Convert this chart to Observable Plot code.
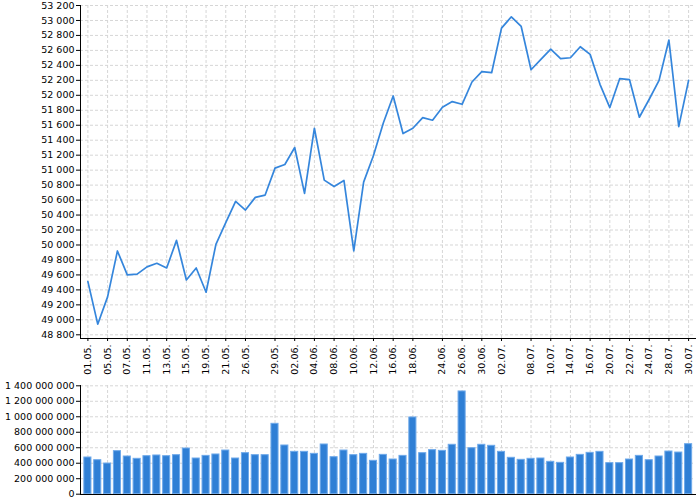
<!DOCTYPE html>
<html>
<head>
<meta charset="utf-8">
<script src="https://cdn.jsdelivr.net/npm/d3@7"></script>
<script src="https://cdn.jsdelivr.net/npm/@observablehq/plot@0.6"></script>
<style>
  html, body { margin: 0; padding: 0; background: #fff; }
  #chart > svg, #chart > figure { display: block; margin: 0; }
</style>
</head>
<body>
<div id="chart"></div>
<script>
const dates = [
  "01.05.","04.05.","05.05.","06.05.","07.05.","08.05.","11.05.","12.05.","13.05.","14.05.",
  "15.05.","18.05.","19.05.","20.05.","21.05.","22.05.","26.05.","27.05.","28.05.","29.05.",
  "01.06.","02.06.","03.06.","04.06.","05.06.","08.06.","09.06.","10.06.","11.06.","12.06.",
  "15.06.","16.06.","17.06.","18.06.","19.06.","22.06.","24.06.","25.06.","26.06.","29.06.",
  "30.06.","01.07.","02.07.","06.07.","07.07.","08.07.","09.07.","10.07.","13.07.","14.07.",
  "15.07.","16.07.","17.07.","20.07.","21.07.","22.07.","23.07.","24.07.","27.07.","28.07.",
  "29.07.","30.07."
];

const closes = [
  49510, 48942, 49307, 49920, 49600, 49610, 49707, 49756, 49693, 50062,
  49533, 49693, 49369, 50009, 50298, 50582, 50467, 50636, 50667, 51027,
  51076, 51302, 50689, 51560, 50867, 50782, 50862, 49920, 50840, 51196,
  51631, 51991, 51489, 51560, 51702, 51667, 51840, 51916, 51880, 52178,
  52316, 52302, 52898, 53049, 52920, 52342, 52480, 52618, 52489, 52502,
  52649, 52547, 52147, 51836, 52222, 52209, 51707, 51947, 52200, 52738,
  51582, 52200
];

const volumes = [
  474e6, 439e6, 396e6, 556e6, 487e6, 457e6, 491e6, 500e6, 491e6, 504e6,
  590e6, 461e6, 495e6, 513e6, 564e6, 461e6, 530e6, 504e6, 504e6, 909e6,
  629e6, 547e6, 547e6, 521e6, 642e6, 478e6, 564e6, 504e6, 521e6, 431e6,
  508e6, 448e6, 495e6, 991e6, 530e6, 569e6, 560e6, 638e6, 1327e6, 594e6,
  638e6, 625e6, 547e6, 470e6, 444e6, 457e6, 461e6, 418e6, 405e6, 474e6,
  508e6, 534e6, 547e6, 401e6, 401e6, 448e6, 495e6, 439e6, 487e6, 551e6,
  538e6, 646e6
];

const xTicks = [
  "01.05.","05.05.","07.05.","11.05.","13.05.","15.05.","19.05.","21.05.","26.05.","29.05.",
  "02.06.","04.06.","08.06.","10.06.","12.06.","16.06.","18.06.","24.06.","26.06.","30.06.",
  "02.07.","08.07.","10.07.","14.07.","16.07.","20.07.","22.07.","24.07.","28.07.","30.07."
];

const priceTicks = d3.range(48800, 53201, 200);
const volumeTicks = d3.range(0, 1400000001, 200000000);

const rows = dates.map((d, i) => ({date: d, close: closes[i], volume: volumes[i]}));
const fmt = v => d3.format(",")(v).replace(/,/g, "\u00a0");

const chartStyle = {fontFamily: "'DejaVu Sans', sans-serif", fontSize: "9.5px", color: "#000", background: "#fff", overflow: "visible"};
const gridStyle = {stroke: "#d6d6d6", strokeOpacity: 1, strokeDasharray: "3,2"};
const lineColor = "#3586dc";

const priceChart = Plot.plot({
  width: 700,
  height: 375,
  marginLeft: 80,
  marginRight: 5,
  marginTop: 5,
  marginBottom: 37,
  style: chartStyle,
  x: {type: "point", domain: dates, range: [80.5, 695], padding: 0.7, label: null},
  y: {domain: [48800, 53200], range: [334.3, 5], label: null},
  marks: [
    Plot.gridY(priceTicks, gridStyle),
    Plot.gridX(xTicks, gridStyle),
    Plot.frame({anchor: "left", stroke: "#000"}),
    Plot.frame({anchor: "bottom", stroke: "#000"}),
    Plot.axisY(priceTicks, {tickSize: 4, tickPadding: 2, tickFormat: fmt, label: null}),
    Plot.axisX(xTicks, {tickSize: 3, tickPadding: 3, tickRotate: -90, label: null}),
    Plot.line(rows, {x: "date", y: "close", stroke: lineColor, strokeWidth: 1.7})
  ]
});

const volumeChart = Plot.plot({
  width: 700,
  height: 125,
  marginLeft: 80,
  marginRight: 5,
  marginTop: 10,
  marginBottom: 6,
  style: chartStyle,
  x: {type: "band", domain: dates, range: [80.5, 695], paddingInner: 0.28, paddingOuter: 0.34, axis: null},
  y: {domain: [0, 1400000000], range: [118.7, 10.3], label: null},
  marks: [
    Plot.gridY(volumeTicks, gridStyle),
    Plot.gridX(xTicks, gridStyle),
    Plot.barY(rows, {x: "date", y: "volume", fill: "#2f7fd5", stroke: "#6ea9ea", strokeWidth: 1}),
    Plot.frame({anchor: "left", stroke: "#000"}),
    Plot.frame({anchor: "bottom", stroke: "#000"}),
    Plot.axisY(volumeTicks, {tickSize: 4, tickPadding: 2, tickFormat: fmt, label: null})
  ]
});

document.getElementById("chart").append(priceChart, volumeChart);
</script>
</body>
</html>
